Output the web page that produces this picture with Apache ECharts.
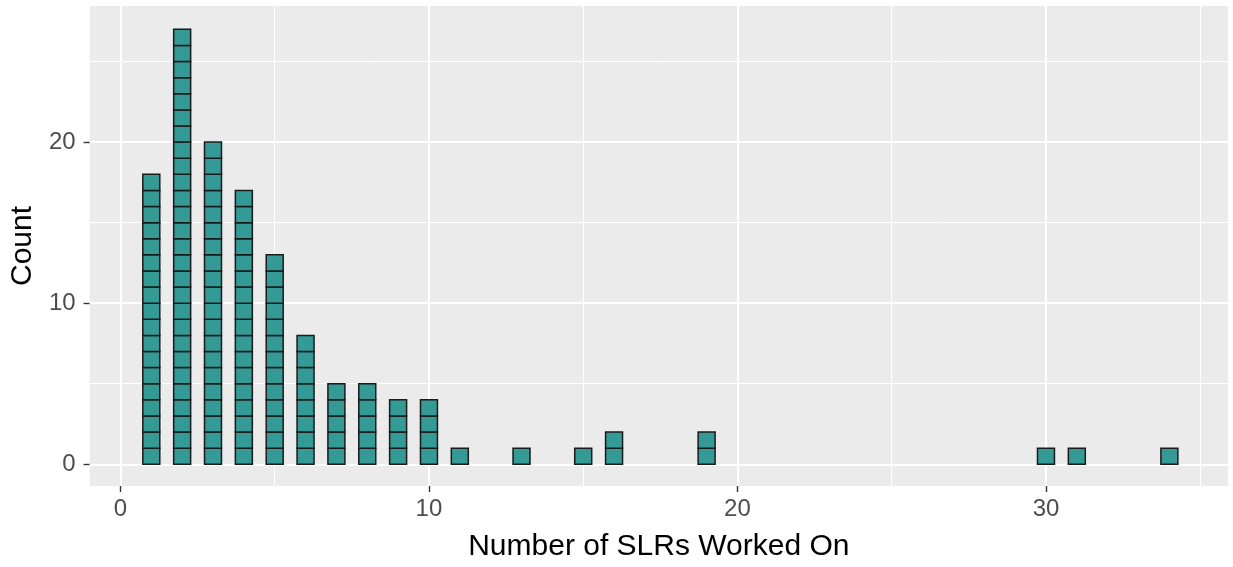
<!DOCTYPE html>
<html>
<head>
<meta charset="utf-8">
<script src="https://cdn.jsdelivr.net/npm/echarts@6/dist/echarts.min.js"></script>
<style>
html, body { margin: 0; padding: 0; background: #fff; }
#main { width: 1233px; height: 567px; }
</style>
</head>
<body>
<div id="main"></div>
<script>
var myChart = echarts.init(document.getElementById('main'));

// number of SLRs worked on -> how many people
const slrs = [1, 2, 3, 4, 5, 6, 7, 8, 9, 10, 11, 13, 15, 16, 19, 30, 31, 34];
const counts = [18, 27, 20, 17, 13, 8, 5, 5, 4, 4, 1, 1, 1, 2, 2, 1, 1, 1];

const xMajor = [0, 10, 20, 30];
const xMinor = [5, 15, 25, 35];
const yMajor = [0, 10, 20];
const yMinor = [5, 15, 25];

const data = slrs.map((x, i) => [x, counts[i]]);

const boxW = 0.55;
const fill = '#339A96';
const font = 'Liberation Sans, Arial, sans-serif';

function renderItem(params, api) {
    const x = api.value(0);
    const n = api.value(1);
    const kids = [];
    for (let k = 0; k < n; k++) {
        const p0 = api.coord([x - boxW / 2, k + 1]);
        const p1 = api.coord([x + boxW / 2, k]);
        kids.push({
            type: 'rect',
            shape: { x: p0[0], y: p0[1], width: p1[0] - p0[0], height: p1[1] - p0[1] },
            style: { fill: fill, stroke: '#1a1a1a', lineWidth: 1.5 }
        });
    }
    return { type: 'group', children: kids };
}

const tickStyle = { show: true, length: 6, lineStyle: { color: '#333', width: 1.4 } };

option = {
    animation: false,
    grid: {
        left: 88, right: 5, top: 6, bottom: 81,
        show: true, backgroundColor: '#EBEBEB', borderWidth: 0
    },
    xAxis: [
        {
            type: 'value', min: -1, max: 35.9,
            name: 'Number of SLRs Worked On', nameLocation: 'middle', nameGap: 46,
            nameTextStyle: { fontFamily: font, fontSize: 30, color: '#000' },
            axisLine: { show: false, onZero: false },
            axisTick: Object.assign({ customValues: xMajor }, tickStyle),
            axisLabel: { customValues: xMajor, fontFamily: font, fontSize: 24, color: '#4D4D4D', margin: 11 },
            splitLine: { show: true, lineStyle: { color: '#fff', width: 2 } }
        },
        {
            type: 'value', min: -1, max: 35.9, position: 'bottom',
            axisLine: { show: false, onZero: false },
            axisTick: { show: false, customValues: xMinor },
            axisLabel: { show: false, customValues: xMinor },
            splitLine: { show: true, lineStyle: { color: '#fff', width: 1 } }
        }
    ],
    yAxis: [
        {
            type: 'value', min: -1.35, max: 28.45,
            name: 'Count', nameLocation: 'middle', nameGap: 50, nameRotate: 90,
            nameTextStyle: { fontFamily: font, fontSize: 30, color: '#000' },
            axisLine: { show: false, onZero: false },
            axisTick: Object.assign({ customValues: yMajor }, tickStyle),
            axisLabel: { customValues: yMajor, fontFamily: font, fontSize: 24, color: '#4D4D4D', margin: 14 },
            splitLine: { show: true, lineStyle: { color: '#fff', width: 2 } }
        },
        {
            type: 'value', min: -1.35, max: 28.45, position: 'left',
            axisLine: { show: false, onZero: false },
            axisTick: { show: false, customValues: yMinor },
            axisLabel: { show: false, customValues: yMinor },
            splitLine: { show: true, lineStyle: { color: '#fff', width: 1 } }
        }
    ],
    series: [
        {
            type: 'custom',
            xAxisIndex: 0,
            yAxisIndex: 0,
            renderItem: renderItem,
            encode: { x: 0, y: 1 },
            data: data
        }
    ]
};

myChart.setOption(option);
</script>
</body>
</html>
